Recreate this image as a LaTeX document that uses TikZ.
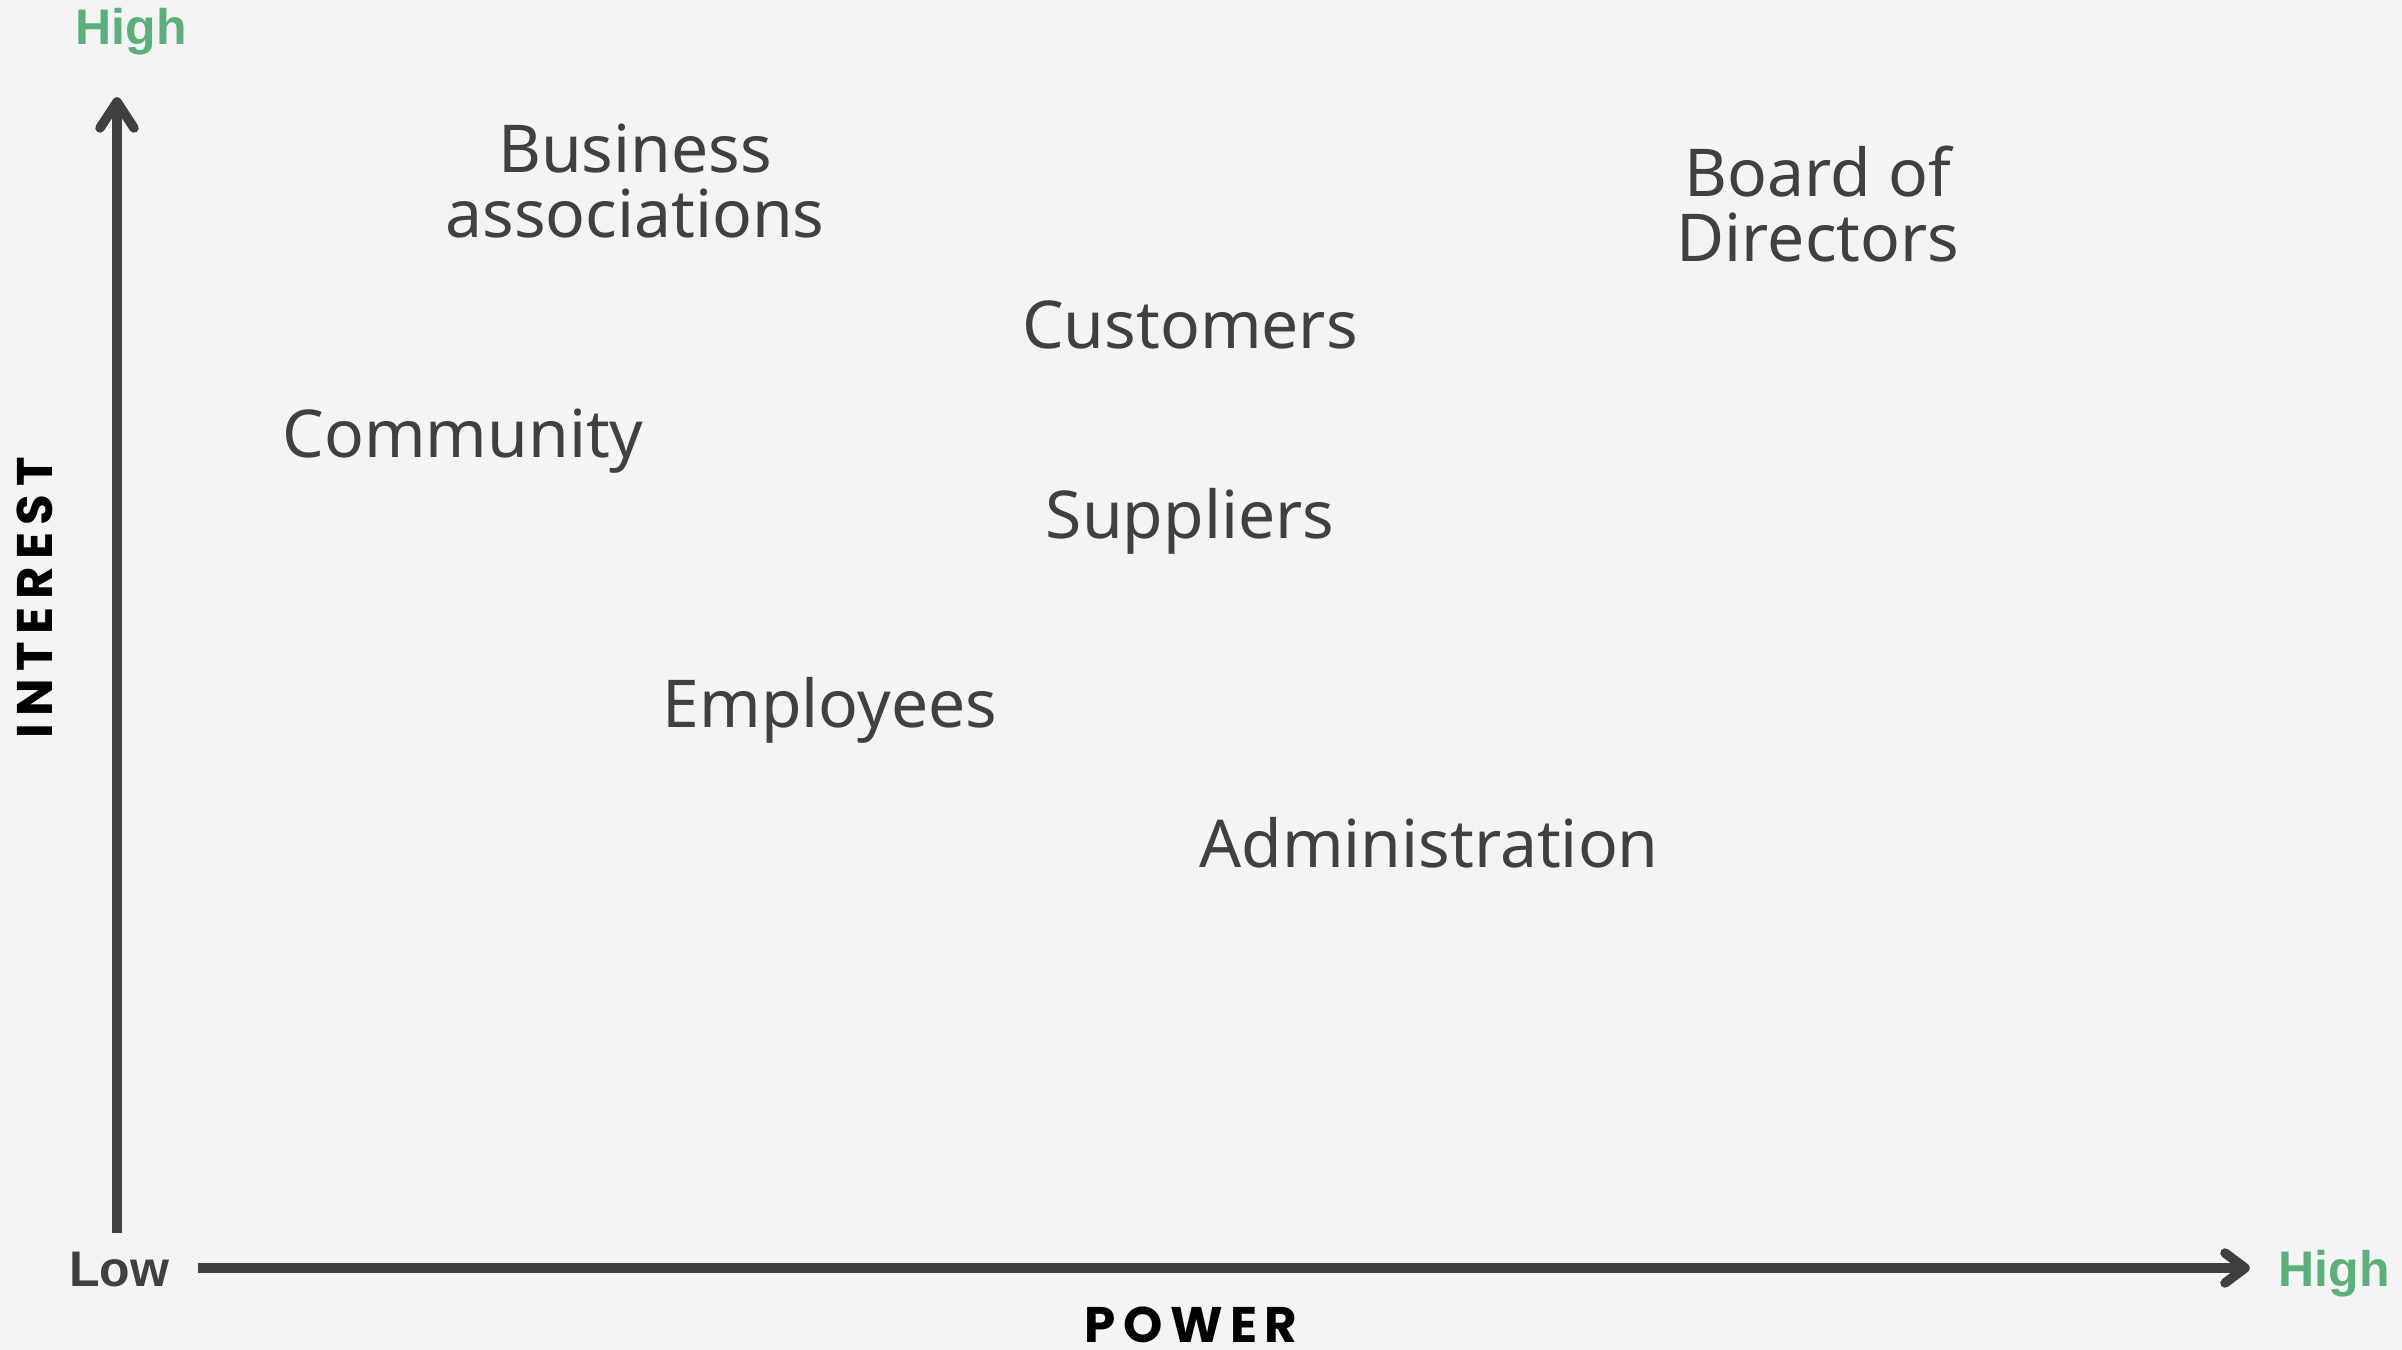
\documentclass[tikz,border=0pt]{standalone}
\usepackage{fontspec}
\setmainfont{Noto Sans}
\newfontfamily\axisfont[LetterSpace=15]{Poppins}
\newfontfamily\levelfont{Liberation Sans}
\definecolor{bg}{HTML}{F4F4F4}
\definecolor{ink}{HTML}{404042}
\definecolor{hi}{HTML}{5AB07A}
\begin{document}
\begin{tikzpicture}[x=1bp,y=-1bp,
  lbl/.style={text=ink, font=\fontsize{66bp}{65bp}\selectfont, inner sep=0pt, anchor=base, align=center},
  lvl/.style={font=\levelfont\bfseries\fontsize{50bp}{58bp}\selectfont, inner sep=0pt, anchor=base},
  axname/.style={font=\axisfont\bfseries\fontsize{50bp}{56bp}\selectfont, inner sep=0pt, anchor=base, text=black},
  axisline/.style={draw=ink, line width=9.5bp},
  tipline/.style={draw=ink, line width=9.5bp, line cap=round, line join=round}]
\fill[bg] (0,0) rectangle (2402,1350);
\useasboundingbox (0,0) rectangle (2402,1350);
% axes
\coordinate (yfoot) at (117,1233);
\coordinate (ytip) at (117,102);
\coordinate (xfoot) at (198,1268);
\coordinate (xtip) at (2245,1268);
\draw[axisline] (yfoot) -- (ytip);
\draw[tipline] ([xshift=-17bp,yshift=-26bp]ytip) -- (ytip) -- ([xshift=17bp,yshift=-26bp]ytip);
\draw[axisline] (xfoot) -- (xtip);
\draw[tipline] ([xshift=-20bp,yshift=15bp]xtip) -- (xtip) -- ([xshift=-20bp,yshift=-15bp]xtip);
% axis labels
\node[lvl, text=hi] (yhigh) at (131,45) {High};
\node[lvl, text=ink] (low) at (119,1286) {Low};
\node[lvl, text=hi] (xhigh) at (2334,1286) {High};
\node[axname] (power) at (1191,1342) {POWER};
\node[axname, rotate=90] (interest) at (52,598) {INTEREST};
% stakeholders
\node[lbl] (business) at (635,238) {Business\\associations};
\node[lbl] (board) at (1818,262) {Board of\\Directors};
\node[lbl] (customers) at (1190,348) {Customers};
\node[lbl] (community) at (463,457) {Community};
\node[lbl] (suppliers) at (1190,538) {Suppliers};
\node[lbl] (employees) at (830,727) {Employees};
\node[lbl] (admin) at (1429,867) {Administration};
\end{tikzpicture}
\end{document}
